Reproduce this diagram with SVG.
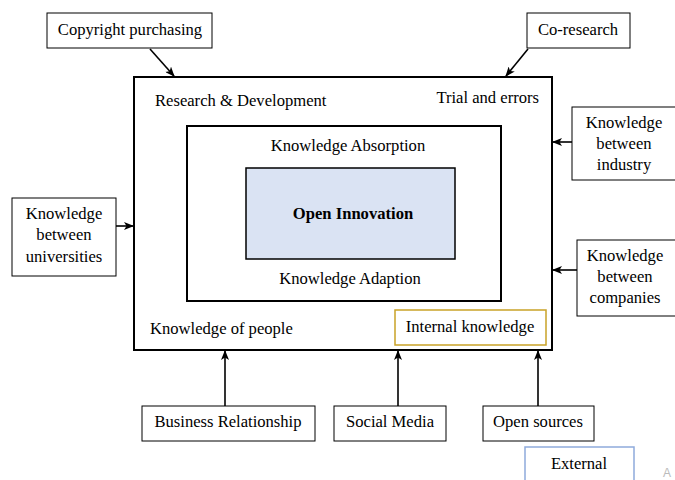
<svg xmlns="http://www.w3.org/2000/svg" width="675" height="480" viewBox="0 0 675 480">
<style>
text{font-family:"Liberation Serif","Times New Roman",serif;font-size:16.6px;fill:#000;}
.c{text-anchor:middle;}
.box{fill:#fff;stroke:#000;stroke-width:1;}
.frame{fill:none;stroke:#000;stroke-width:2;}
.ln{stroke:#000;stroke-width:1.6;fill:none;}
</style>
<defs>
<marker id="ah" markerWidth="10" markerHeight="8" refX="9" refY="4" orient="auto" markerUnits="userSpaceOnUse">
<path d="M0,0 L10,4 L0,8 L2.5,4 Z" fill="#000"/>
</marker>
</defs>
<rect width="675" height="480" fill="#fff"/>
<g id="main-frame">
<rect class="frame" x="134" y="77" width="418" height="273"/>
<text x="155" y="106">Research &amp; Development</text>
<text x="539" y="103" text-anchor="end">Trial and errors</text>
<text x="150" y="334">Knowledge of people</text>
</g>
<g id="inner-frame">
<rect class="frame" x="187" y="126" width="314" height="175"/>
<text class="c" x="348" y="151">Knowledge Absorption</text>
<text class="c" x="350" y="284">Knowledge Adaption</text>
</g>
<g id="open-innovation">
<rect x="246" y="168" width="209" height="91" fill="#dae3f3" stroke="#000" stroke-width="1.5"/>
<text class="c" x="353" y="219" font-weight="bold">Open Innovation</text>
</g>
<g id="internal-knowledge">
<rect x="395" y="310" width="151" height="35" fill="#fff" stroke="#c9a227" stroke-width="1.5"/>
<text class="c" x="470" y="332">Internal knowledge</text>
</g>
<g id="copyright">
<rect class="box" x="47" y="13" width="165" height="35"/>
<text class="c" x="130" y="35">Copyright purchasing</text>
</g>
<g id="co-research">
<rect class="box" x="527" y="13" width="103" height="35"/>
<text class="c" x="578" y="35">Co-research</text>
</g>
<g id="industry">
<rect class="box" x="572" y="107" width="105" height="73"/>
<text class="c" x="624" y="128">Knowledge</text>
<text class="c" x="624" y="149">between</text>
<text class="c" x="624" y="170">industry</text>
</g>
<g id="companies">
<rect class="box" x="577" y="240" width="100" height="76"/>
<text class="c" x="625" y="261">Knowledge</text>
<text class="c" x="625" y="282">between</text>
<text class="c" x="625" y="303">companies</text>
</g>
<g id="universities">
<rect class="box" x="12" y="198" width="104" height="78"/>
<text class="c" x="64" y="219">Knowledge</text>
<text class="c" x="64" y="240">between</text>
<text class="c" x="64" y="262">universities</text>
</g>
<g id="business">
<rect class="box" x="142" y="406" width="173" height="35"/>
<text class="c" x="228" y="427">Business Relationship</text>
</g>
<g id="social">
<rect class="box" x="334" y="406" width="112" height="35"/>
<text class="c" x="390" y="427">Social Media</text>
</g>
<g id="open-sources">
<rect class="box" x="483" y="406" width="111" height="35"/>
<text class="c" x="538" y="427">Open sources</text>
</g>
<g id="external">
<rect x="525" y="447" width="109" height="40" fill="#fff" stroke="#8eaadb" stroke-width="1.5"/>
<text class="c" x="579" y="469">External</text>
</g>
<text x="663" y="477" style="fill:#bbbbbb;font-family:'Liberation Sans',sans-serif;font-size:12px">A</text>
<g id="connectors">
<line class="ln" x1="150" y1="49" x2="174" y2="76" marker-end="url(#ah)"/>
<line class="ln" x1="528" y1="49" x2="506" y2="76" marker-end="url(#ah)"/>
<line class="ln" x1="572" y1="142" x2="553" y2="142" marker-end="url(#ah)"/>
<line class="ln" x1="577" y1="270" x2="553" y2="270" marker-end="url(#ah)"/>
<line class="ln" x1="116" y1="226" x2="133" y2="226" marker-end="url(#ah)"/>
<line class="ln" x1="225" y1="406" x2="225" y2="351" marker-end="url(#ah)"/>
<line class="ln" x1="398" y1="406" x2="398" y2="351" marker-end="url(#ah)"/>
<line class="ln" x1="538" y1="406" x2="538" y2="351" marker-end="url(#ah)"/>
</g>
</svg>
